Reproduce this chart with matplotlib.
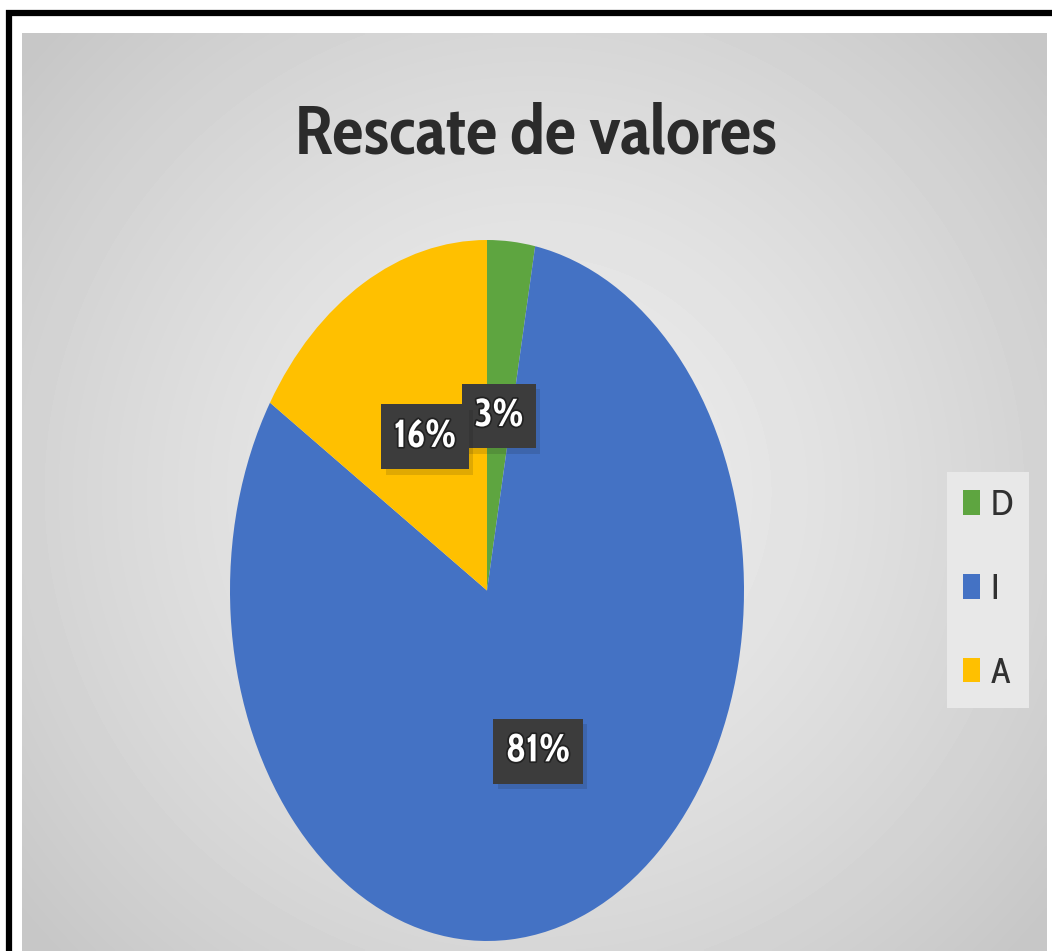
import matplotlib
matplotlib.use("Agg")
import matplotlib.pyplot as plt
import matplotlib.patheffects as pe
import numpy as np
from matplotlib.patches import Rectangle

# data
categories = ["D", "I", "A"]
values = [3, 81, 16]
colors = ["#5ea540", "#4472c4", "#ffc000"]
title = "Rescate de valores"

W, H = 1052, 951
FONT = ["Cabin Condensed", "DejaVu Sans"]


def fit_width(fig, txt, target_px):
    """Rescale a text's font size so its rendered width hits target_px."""
    r = fig.canvas.get_renderer()
    w = txt.get_window_extent(r).width
    txt.set_fontsize(txt.get_fontsize() * target_px / w)


fig = plt.figure(figsize=(W / 100, H / 100), dpi=100)
fig.patch.set_facecolor("white")

# outer black frame (right/bottom edges run off the image)
fig.patches.append(Rectangle((9 / W, 1 - 1000 / H), 1100 / W, (1000 - 13) / H,
                             transform=fig.transFigure, fill=False,
                             edgecolor="black", linewidth=4.5, zorder=0))

# gray panel with radial gradient
bg = fig.add_axes([22 / W, 0, (1047 - 22) / W, 1 - 33 / H], zorder=1)
yy, xx = np.mgrid[-1:1:300j, -1:1:300j]
rr = np.sqrt(xx ** 2 + (yy * 0.9) ** 2)
shade = 0.93 - 0.15 * np.clip(rr / 1.3, 0, 1) ** 1.4
bg.imshow(shade, cmap="gray", vmin=0, vmax=1, aspect="auto",
          extent=[0, 1, 0, 1], interpolation="bilinear")
bg.set_xlim(0, 1)
bg.set_ylim(0, 1)
bg.axis("off")

t = fig.text(536 / W, 1 - 153 / H, title, ha="center", va="baseline",
             fontsize=50, fontweight="bold", color="#2b2b2b", family=FONT,
             zorder=5)
fit_width(fig, t, 482)

ax = fig.add_axes([230 / W, 1 - 941 / H, 514 / W, 701 / H], zorder=3)
wedges, _, autotexts = ax.pie(
    values, colors=colors, startangle=90, counterclock=False,
    autopct=lambda p: f"{p:.0f}%", pctdistance=0.5,
    wedgeprops=dict(linewidth=0),
    textprops=dict(color="white", fontsize=28, fontweight="bold", family=FONT),
)
for at in autotexts:
    at.set_bbox(dict(boxstyle="square,pad=0.32", facecolor="#3c3c3c",
                     edgecolor="none"))
    at.set_path_effects([pe.withStroke(linewidth=2.5, foreground="#222222")])
    at.get_bbox_patch().set_path_effects(
        [pe.SimplePatchShadow(offset=(3, -4), alpha=0.13), pe.Normal()])
ax.set_aspect("auto")
ax.set_xlim(-1, 1)
ax.set_ylim(-1, 1)
ax.axis("off")

leg = fig.legend(wedges, categories, loc="center",
                 bbox_to_anchor=(988 / W, 1 - 590 / H),
                 frameon=True, fancybox=False, facecolor="#e8e8e8",
                 edgecolor="none", framealpha=1,
                 prop=dict(family=FONT, size=26), labelspacing=1.32,
                 handlelength=0.47, handleheight=0.67, handletextpad=0.3,
                 borderpad=0.45)
leg.set_zorder(6)
for txt in leg.get_texts():
    txt.set_color("#303030")

fig.savefig("out.png", dpi=100)
